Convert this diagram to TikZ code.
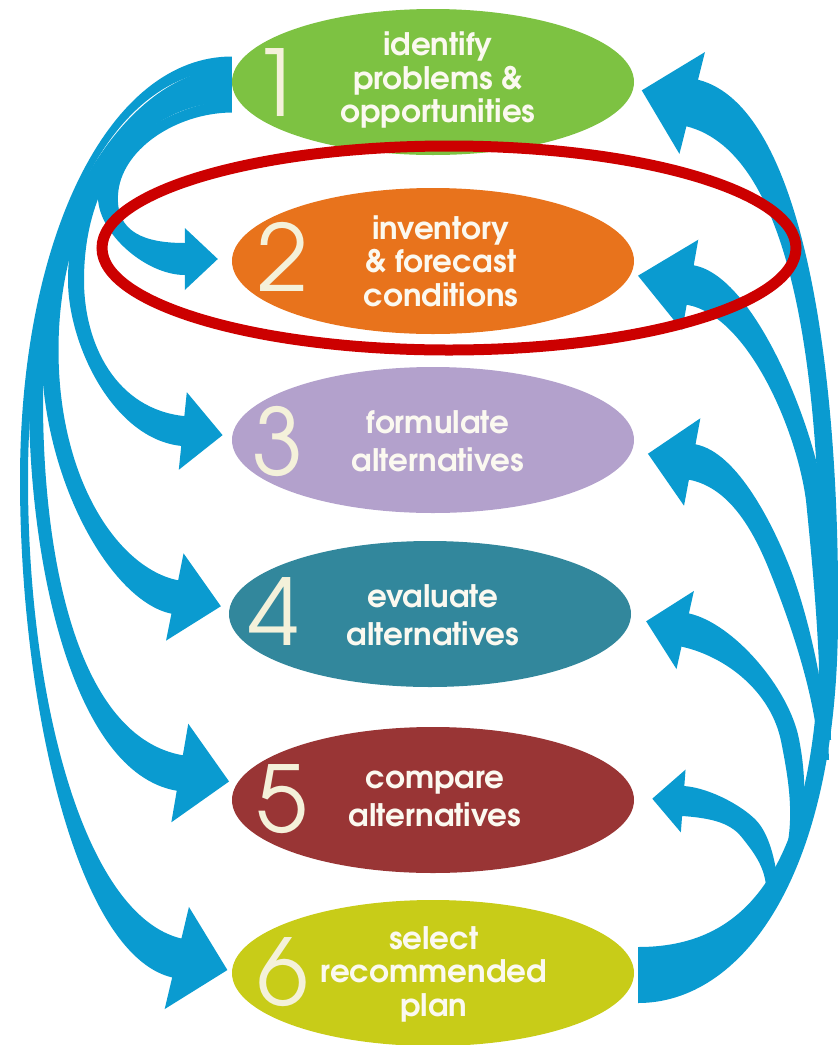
\documentclass[tikz,border=0pt]{standalone}
\usepackage{fontspec}
\setmainfont{texgyreadventor}[Extension=.otf,UprightFont=*-regular,BoldFont=*-bold]
\usetikzlibrary{calc,shapes.geometric}

\definecolor{stepone}{HTML}{7DC242}
\definecolor{steptwo}{HTML}{E8731C}
\definecolor{stepthree}{HTML}{B3A1CC}
\definecolor{stepfour}{HTML}{32879C}
\definecolor{stepfive}{HTML}{993535}
\definecolor{stepsix}{HTML}{C8CC18}
\definecolor{flowblue}{HTML}{0A9BD0}
\definecolor{ringred}{HTML}{CC0000}
\definecolor{lbltext}{HTML}{FBF9F0}
\definecolor{numtext}{HTML}{F4F1DA}

\tikzset{
  stage/.style={ellipse, minimum width=402pt, minimum height=146pt, inner sep=0pt, draw=none},
  num/.style={font=\fontsize{92}{92}\selectfont, text=numtext, inner sep=0pt},
  lbl/.style={font=\bfseries\fontsize{31}{33.5}\selectfont, text=lbltext, align=center, inner sep=0pt},
  lbltwo/.style={lbl, font=\bfseries\fontsize{31}{38.5}\selectfont},
}

% centre line of a tapered arrow: start, two controls, middle point, two controls, head base
\newcommand\flowpath[7]{%
  \coordinate (p0) at #1; \coordinate (c1) at #2; \coordinate (c2) at #3;
  \coordinate (pm) at #4; \coordinate (c4) at #5; \coordinate (c5) at #6;
  \coordinate (p3) at #7;}
% half widths at start, middle and head base; head length; half head width
\newcommand\flowarrow[5]{%
  \coordinate (a0) at ($(p0)!#1!90:(c1)$);
  \coordinate (a1) at ($(c1)!#1!-90:(p0)$);
  \coordinate (a2) at ($(c2)!#2!90:(pm)$);
  \coordinate (am) at ($(pm)!#2!-90:(c2)$);
  \coordinate (a4) at ($(c4)!#2!-90:(pm)$);
  \coordinate (a5) at ($(c5)!#3!90:(p3)$);
  \coordinate (a3) at ($(p3)!#3!-90:(c5)$);
  \coordinate (b0) at ($(p0)!#1!-90:(c1)$);
  \coordinate (b1) at ($(c1)!#1!90:(p0)$);
  \coordinate (b2) at ($(c2)!#2!-90:(pm)$);
  \coordinate (bm) at ($(pm)!#2!90:(c2)$);
  \coordinate (b4) at ($(c4)!#2!90:(pm)$);
  \coordinate (b5) at ($(c5)!#3!-90:(p3)$);
  \coordinate (b3) at ($(p3)!#3!90:(c5)$);
  \coordinate (ha) at ($(p3)!#5!-90:(c5)$);
  \coordinate (hb) at ($(p3)!#5!90:(c5)$);
  \coordinate (tip) at ($(p3)!-#4!(c5)$);
  \fill[flowblue] (a0) .. controls (a1) and (a2) .. (am) .. controls (a4) and (a5) .. (a3)
    -- (ha) -- (tip) -- (hb) -- (b3) .. controls (b5) and (b4) .. (bm)
    .. controls (b2) and (b1) .. (b0) -- cycle;}

\begin{document}
\begin{tikzpicture}[x=1pt,y=-1pt]
\useasboundingbox (0,0) rectangle (838,1045);

% the six planning steps
\node[stage, fill=stepone]   (n1) at (433,82)  {};
\node[stage, fill=steptwo]   (n2) at (433,261) {};
\node[stage, fill=stepthree] (n3) at (433,440) {};
\node[stage, fill=stepfour]  (n4) at (430,614) {};
\node[stage, fill=stepfive]  (n5) at (433,800) {};
\node[stage, fill=stepsix]   (n6) at (433,973) {};

\node[num] (d1) at ($(n1.center)+(-156,1)$) {1};
\node[num] (d2) at ($(n2.center)+(-150,-4)$) {2};
\node[num] (d3) at ($(n3.center)+(-155,1)$) {3};
\node[num] (d4) at ($(n4.center)+(-156,-3)$) {4};
\node[num] (d5) at ($(n5.center)+(-151,-1)$) {5};
\node[num] (d6) at ($(n6.center)+(-150,-1)$) {6};

\node[lbl]    (t1) at ($(n1.center)+(5,-2)$) {identify\\problems \&\\opportunities};
\node[lbl]    (t2) at ($(n2.center)+(8,0)$)  {inventory\\\& forecast\\conditions};
\node[lbltwo] (t3) at ($(n3.center)+(5,1)$)  {formulate\\alternatives};
\node[lbltwo] (t4) at ($(n4.center)+(3,1)$)  {evaluate\\alternatives};
\node[lbltwo] (t5) at ($(n5.center)+(2,-1)$) {compare\\alternatives};
\node[lbl]    (t6) at ($(n6.center)+(1,1)$)  {select\\recommended\\plan};

% feed-forward arrows from step 1
\flowpath{($(n1.west)+(0,-19)$)}{(110,63)}{(24,235)}{(24,480)}{(24,700)}{(80,935)}{($(n6.west)+(-55,-15)$)}
\flowarrow{6.5pt}{4pt}{20pt}{52pt}{52.5pt}
\flowpath{($(n1.west)+(0,-7.5)$)}{(125,74)}{(36,230)}{(36,400)}{(36,560)}{(75,755)}{($(n5.west)+(-52,-27)$)}
\flowarrow{6.5pt}{7pt}{18pt}{50pt}{50pt}
\flowpath{($(n1.west)+(0,3)$)}{(140,85)}{(50,200)}{(50,350)}{(50,480)}{(115,585)}{($(n4.west)+(-54,-17)$)}
\flowarrow{6.5pt}{8.5pt}{17pt}{47pt}{44.5pt}
\flowpath{($(n1.west)+(0,13.5)$)}{(150,95)}{(76,170)}{(76,280)}{(76,345)}{(115,424)}{($(n3.west)+(-49,-9)$)}
\flowarrow{6.5pt}{8pt}{15pt}{40pt}{39pt}
\flowpath{($(n1.west)+(0,24.5)$)}{(175,107)}{(110,150)}{(108,195)}{(106,232)}{(145,259)}{($(n2.west)+(-47,-2)$)}
\flowarrow{6pt}{10pt}{16pt}{33pt}{31pt}

% feedback arrows from step 6
\flowpath{($(n6.east)+(4,2)$)}{(740,975)}{(828,880)}{(829,620)}{(831,380)}{(800,130)}{($(n1.east)+(58,21)$)}
\flowarrow{28pt}{9pt}{24pt}{52pt}{52.5pt}
\flowpath{(826,740)}{(825,640)}{(822,570)}{(815,500)}{(806,430)}{(752,296)}{($(n2.east)+(56,24)$)}
\flowarrow{5pt}{9pt}{20pt}{53pt}{46pt}
\flowpath{(824,760)}{(822,700)}{(800,620)}{(780,570)}{(765,532)}{(735,470)}{($(n3.east)+(58,22)$)}
\flowarrow{5pt}{10pt}{18pt}{45pt}{44.5pt}
\flowpath{(785,875)}{(800,830)}{(800,790)}{(790,740)}{(780,690)}{(730,640)}{($(n4.east)+(54,16)$)}
\flowarrow{5pt}{9pt}{17pt}{40pt}{40pt}
\flowpath{(772,885)}{(770,865)}{(762,845)}{(750,830)}{(738,815)}{(710,803)}{($(n5.east)+(49,1)$)}
\flowarrow{6pt}{11pt}{15pt}{31pt}{31.5pt}

% highlight ring round step 2
\node[ellipse, draw=ringred, line width=11pt, minimum width=694pt, minimum height=204pt, inner sep=0pt] (ring) at (449,248) {};
\end{tikzpicture}
\end{document}
